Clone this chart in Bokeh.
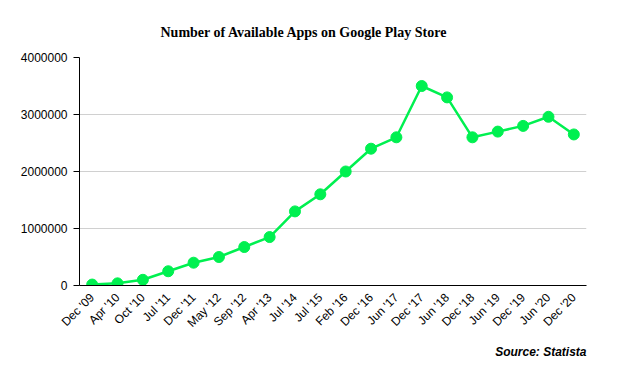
from bokeh.plotting import figure
from bokeh.models import Title, ColumnDataSource, NumeralTickFormatter
from bokeh.embed import file_html
from bokeh.resources import INLINE
import math

dates = ["Dec '09", "Apr '10", "Oct '10", "Jul '11", "Dec '11", "May '12", "Sep '12",
         "Apr '13", "Jul '14", "Jul '15", "Feb '16", "Dec '16", "Jun '17", "Dec '17",
         "Jun '18", "Dec '18", "Jun '19", "Dec '19", "Jun '20", "Dec '20"]
apps = [16500, 38000, 100000, 250000, 400000, 500000, 675000,
        850000, 1300000, 1600000, 2000000, 2400000, 2600000, 3500000,
        3300000, 2600000, 2700000, 2800000, 2960000, 2650000]
y_ticks = [0, 1000000, 2000000, 3000000, 4000000]

GREEN = "#00f050"

p = figure(width=617, height=368, x_range=dates, y_range=(0, 4000000),
           output_backend="svg", toolbar_location=None,
           min_border_left=79, min_border_right=31, min_border_top=57, min_border_bottom=83)
p.title = None
p.outline_line_color = None
p.background_fill_color = "white"
p.border_fill_color = "white"

src = ColumnDataSource(dict(x=dates, y=apps))
p.line("x", "y", source=src, line_color=GREEN, line_width=2.5)
p.scatter("x", "y", source=src, size=11, fill_color=GREEN, line_color=GREEN)

p.xgrid.grid_line_color = None
p.ygrid.grid_line_color = "#d0d0d0"
p.ygrid.grid_line_width = 1

p.yaxis.ticker = y_ticks
p.yaxis.formatter = NumeralTickFormatter(format="0")
p.yaxis.major_tick_out = 6
p.yaxis.major_tick_in = 0
p.yaxis.minor_tick_line_color = None
p.yaxis.major_label_text_font = "Liberation Sans"
p.yaxis.major_label_text_font_size = "12px"
p.yaxis.major_label_text_color = "black"
p.yaxis.major_label_standoff = 6
p.yaxis.axis_line_color = "black"
p.yaxis.major_tick_line_color = "black"

p.xaxis.major_tick_line_color = None
p.xaxis.major_tick_out = 0
p.xaxis.major_label_orientation = math.pi / 4
p.xaxis.major_label_text_font = "Liberation Sans"
p.xaxis.major_label_text_font_size = "12px"
p.xaxis.major_label_text_color = "black"
p.xaxis.major_label_standoff = 10
p.xaxis.axis_line_color = "black"

t = Title(text="Number of Available Apps on Google Play Store", align="left", offset=81,
          text_font="Liberation Serif", text_font_size="14px", text_font_style="bold",
          text_color="black", standoff=36)
p.add_layout(t, "above")

s = Title(text="Source: Statista", align="right",
          text_font="Liberation Sans", text_font_size="12px", text_font_style="bold italic",
          text_color="black", standoff=11)
p.add_layout(s, "below")

open("out.html", "w").write(file_html(p, INLINE))
